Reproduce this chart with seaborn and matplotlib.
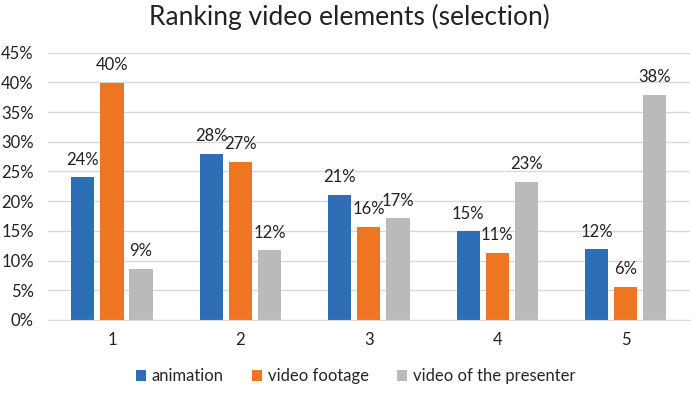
import matplotlib
matplotlib.use("Agg")
import matplotlib.pyplot as plt
import numpy as np
import pandas as pd
import seaborn as sns

ranks = ["1", "2", "3", "4", "5"]
animation = [24.0, 28.0, 21.0, 14.9, 11.9]
video_footage = [39.9, 26.6, 15.7, 11.3, 5.6]
presenter = [8.6, 11.7, 17.1, 23.2, 37.9]
series = ["animation", "video footage", "video of the presenter"]
colors = ["#2E6EB6", "#EE7623", "#BABABA"]

df = pd.DataFrame({
    "rank": ranks * 3,
    "share": animation + video_footage + presenter,
    "element": [s for s in series for _ in ranks],
})

sns.set_style("white")
plt.rcParams['font.family'] = ['Lato', 'DejaVu Sans']

fig = plt.figure(figsize=(6.92, 3.93), dpi=100)
ax = fig.add_axes([0.069, 0.186, 0.928, 0.68])

sns.barplot(data=df, x="rank", y="share", hue="element", palette=colors,
            width=0.68, gap=0.2, ax=ax, saturation=1, linewidth=0,
            edgecolor="none")

for cont in ax.containers:
    ax.bar_label(cont, labels=[f"{v:.0f}%" for v in cont.datavalues],
                 padding=7, fontsize=12, color="#222222")

ax.set_ylim(0, 45)
ax.set_yticks(np.arange(0, 46, 5))
ax.set_yticklabels([f"{t}%" for t in range(0, 46, 5)])
ax.yaxis.grid(True, color="#D9D9D9", linewidth=1)
ax.set_axisbelow(True)
for side in ["left", "right", "top"]:
    ax.spines[side].set_visible(False)
ax.spines["bottom"].set_color("#D9D9D9")
ax.tick_params(axis="both", length=0, labelsize=12, colors="#222222")
ax.tick_params(axis="x", pad=9)
ax.tick_params(axis="y", pad=10)
ax.set_xlabel("")
ax.set_ylabel("")

ax.legend(loc="upper center", bbox_to_anchor=(0.48, -0.125), ncol=3,
          frameon=False, fontsize=12, handlelength=0.6, handleheight=0.6,
          handletextpad=0.35, columnspacing=1.7)

fig.suptitle("Ranking video elements (selection)", x=0.505, y=0.99,
             fontsize=19, color="#222222")

fig.savefig("out.png", dpi=100)
